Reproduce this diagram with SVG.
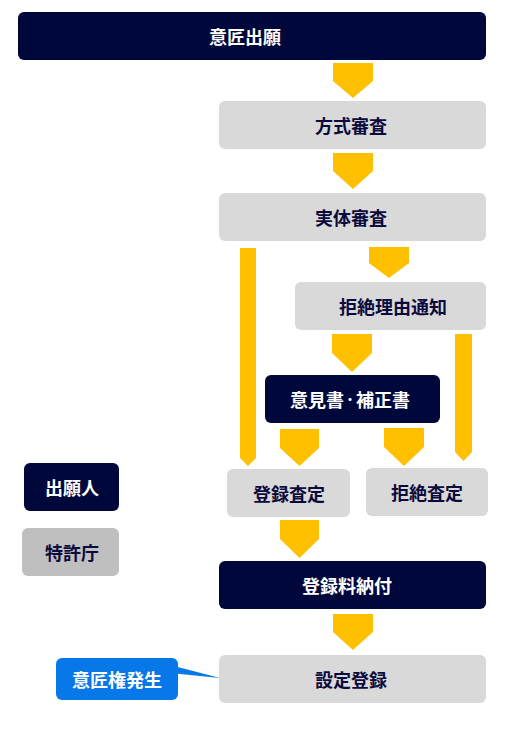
<svg xmlns="http://www.w3.org/2000/svg" width="516" height="731" viewBox="0 0 516 731">
<style>
.dark{fill:#00073b}
.gray{fill:#d9d9d9}
.leg{fill:#bfbfbf}
.blue{fill:#0877e8}
.arr{fill:#ffc000}
text{font-family:"Noto Sans CJK JP","Noto Sans",sans-serif;font-weight:700;font-size:18px;text-anchor:middle;dominant-baseline:central}
.tw{fill:#ffffff}
.td{fill:#0a0a3c}
.dot{font-size:12px}
</style>
<rect width="516" height="731" fill="#ffffff"/>
<g id="connectors">
<path class="arr" d="M333,63H373V81L353,98L333,81Z"/>
<path class="arr" d="M333,153H373V171L353,189L333,171Z"/>
<path class="arr" d="M240,248H256V458L248,466L240,458Z"/>
<path class="arr" d="M369,247H409V263L389,278L369,263Z"/>
<path class="arr" d="M332,334H372V353L352,372L332,353Z"/>
<path class="arr" d="M455,334H472V452L463.5,461L455,452Z"/>
<path class="arr" d="M280,429H319V448L299.5,466L280,448Z"/>
<path class="arr" d="M384,428H424V447L404,466L384,447Z"/>
<path class="arr" d="M280,520H319V539L299.5,558L280,539Z"/>
<path class="arr" d="M333,614H373V632L353,650L333,632Z"/>
</g>
<g id="n-ishoshutsugan"><rect class="dark" x="18" y="12" width="468" height="48" rx="6"/><text class="tw" x="245" y="36">意匠出願</text></g>
<g id="n-hoshikishinsa"><rect class="gray" x="219" y="101" width="267" height="48" rx="6"/><text class="td" x="351" y="125">方式審査</text></g>
<g id="n-jittaishinsa"><rect class="gray" x="219" y="193" width="267" height="48" rx="6"/><text class="td" x="351" y="217">実体審査</text></g>
<g id="n-kyozetsuriyu"><rect class="gray" x="295" y="282" width="191" height="48" rx="6"/><text class="td" x="393" y="306">拒絶理由通知</text></g>
<g id="n-ikensho"><rect class="dark" x="265" y="375" width="175" height="48" rx="6"/><text class="tw" x="350" y="399">意見書<tspan class="dot">・</tspan>補正書</text></g>
<g id="n-torokusatei"><rect class="gray" x="227" y="469" width="123" height="48" rx="6"/><text class="td" x="289" y="493">登録査定</text></g>
<g id="n-kyozetsusatei"><rect class="gray" x="366" y="468" width="122" height="48" rx="6"/><text class="td" x="427" y="492">拒絶査定</text></g>
<g id="n-torokuryo"><rect class="dark" x="219" y="561" width="267" height="48" rx="6"/><text class="tw" x="347" y="585">登録料納付</text></g>
<g id="n-setteitoroku"><rect class="gray" x="219" y="655" width="267" height="48" rx="6"/><text class="td" x="351" y="679">設定登録</text></g>
<g id="legend-shutsuganin"><rect class="dark" x="24" y="463" width="95" height="48" rx="6"/><text class="tw" x="72" y="487">出願人</text></g>
<g id="legend-tokkyocho"><rect class="leg" x="22" y="528" width="97" height="48" rx="6"/><text class="td" x="72" y="552">特許庁</text></g>
<g id="callout-ishoken"><path class="blue" d="M170,665L220,678L170,673Z"/><rect class="blue" x="56" y="658" width="122" height="42" rx="6"/><text class="tw" x="117" y="679">意匠権発生</text></g>
</svg>
